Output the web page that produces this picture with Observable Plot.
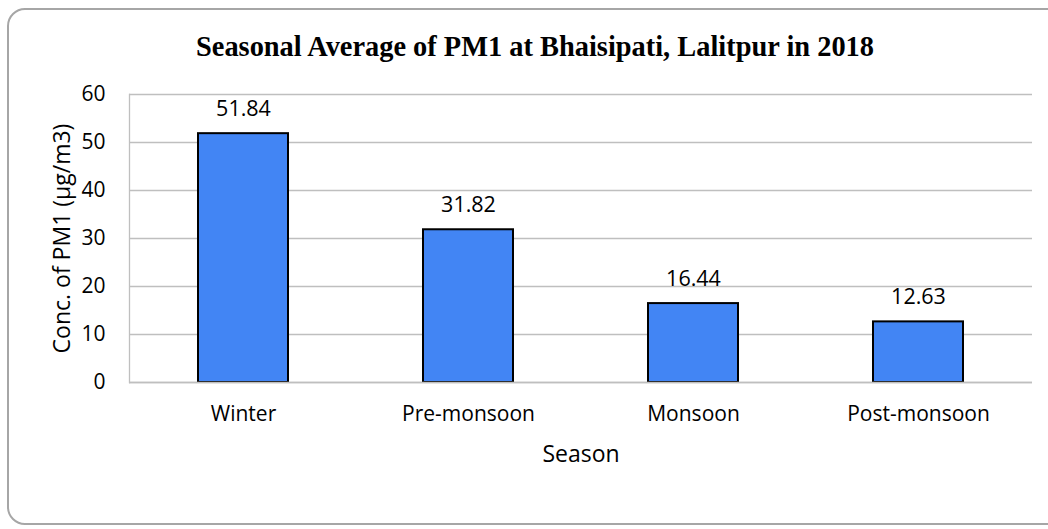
<!DOCTYPE html>
<html>
<head>
<meta charset="utf-8">
<script src="https://cdn.jsdelivr.net/npm/d3@7"></script>
<script src="https://cdn.jsdelivr.net/npm/@observablehq/plot@0.6"></script>
<style>
  html, body { margin: 0; padding: 0; background: #fff; overflow: hidden; }
  #wrap { position: relative; width: 1048px; height: 529px; overflow: hidden; }
  #border { position: absolute; left: 7px; top: 8px; width: 1060px; height: 517px;
            border: 2px solid #a6a6a6; border-radius: 18px; box-sizing: border-box; pointer-events: none; }
  #chart { position: absolute; left: 0; top: 0; }
</style>
</head>
<body>
<div id="wrap"><div id="chart"></div><div id="border"></div></div>
<script>
const seasons = ["Winter", "Pre-monsoon", "Monsoon", "Post-monsoon"];
const values = [51.84, 31.82, 16.44, 12.63];
const yTicks = [0, 10, 20, 30, 40, 50, 60];
const titleText = "Seasonal Average of PM1 at Bhaisipati, Lalitpur in 2018";
const yLabel = "Conc. of PM1 (µg/m3)";
const xLabel = "Season";

const data = seasons.map((s, i) => ({season: s, value: values[i]}));
const font = "'Open Sans', 'Noto Sans', sans-serif";
const fs = 21;
const fsTitle = 23;

const chart = Plot.plot({
  width: 1048,
  height: 529,
  marginLeft: 129,
  marginRight: 16,
  marginTop: 94,
  marginBottom: 147,
  style: {fontFamily: font, fontSize: fs + "px", color: "#000", background: "transparent"},
  x: {domain: seasons, paddingInner: 0.6, paddingOuter: 0.3, label: null},
  y: {domain: [0, 60], label: null},
  marks: [
    Plot.gridY(yTicks, {stroke: "#bfbfbf", strokeOpacity: 1, strokeWidth: 1.3}),
    Plot.axisY(yTicks, {tickSize: 0, tickPadding: 24, fontSize: fs, label: null, fill: "#000"}),
    Plot.axisX({tickSize: 0, tickPadding: 24, fontSize: fs, label: null, fill: "#000"}),
    Plot.barY(data, {x: "season", y: "value", fill: "#4285f4", stroke: "#000", strokeWidth: 2}),
    Plot.frame({anchor: "left", stroke: "#bfbfbf", strokeWidth: 1.3}),
    Plot.ruleY([0], {stroke: "#bfbfbf", strokeWidth: 1.5}),
    Plot.text(data, {x: "season", y: "value", text: d => d.value.toFixed(2),
      lineAnchor: "bottom", dy: -18, fontSize: 21.5, fill: "#000"}),
    Plot.text([titleText], {frameAnchor: "top", lineAnchor: "bottom", dy: -39, dx: -46,
      fontFamily: "'Liberation Serif', 'DejaVu Serif', serif", fontWeight: "bold", fontSize: 28.4, fill: "#000"}),
    Plot.text([xLabel], {frameAnchor: "bottom", lineAnchor: "bottom", dy: 79, fontSize: fsTitle, fill: "#000"}),
    Plot.text([yLabel], {frameAnchor: "left", rotate: -90, textAnchor: "middle", lineAnchor: "bottom", dx: -60, dy: 0,
      fontSize: fsTitle, fill: "#000"})
  ]
});
document.getElementById("chart").appendChild(chart);
</script>
</body>
</html>
